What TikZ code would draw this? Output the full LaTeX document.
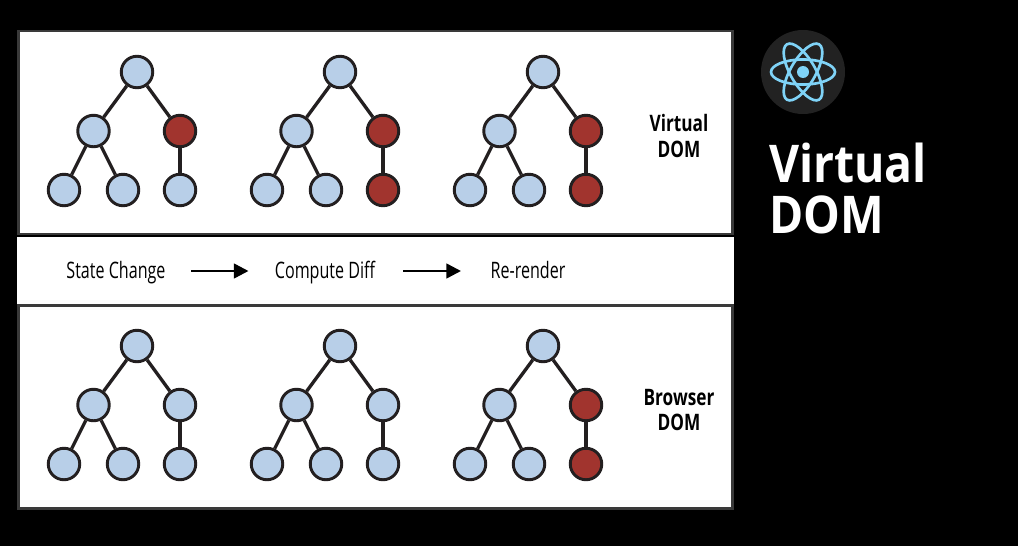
\documentclass[tikz,border=0pt]{standalone}
\usepackage{fontspec}
\setmainfont[FakeStretch=0.89,BoldFont={Open Sans Bold}]{Open Sans}
\newfontfamily\condfont[FakeStretch=0.71]{Open Sans}
\newfontfamily\condbold[FakeStretch=0.76,BoldFont={Open Sans Bold}]{Open Sans}
\usetikzlibrary{arrows.meta}
\definecolor{nodeblue}{HTML}{B8CFE8}
\definecolor{nodered}{HTML}{A1342E}
\definecolor{edgedark}{HTML}{231F20}
\definecolor{panelline}{HTML}{3A3A3A}
\definecolor{logobg}{HTML}{222222}
\definecolor{logoblue}{HTML}{7FD3F7}
\tikzset{
  x=0.75pt,y=-0.75pt,
  panel/.style={draw=panelline,line width=2.2pt,fill=white},
  treenode/.style={circle,draw=edgedark,line width=2.2pt,minimum size=31.5*0.75pt,inner sep=0pt},
  bluenode/.style={treenode,fill=nodeblue},
  rednode/.style={treenode,fill=nodered},
  treeedge/.style={draw=edgedark,line width=2.5pt},
  steplabel/.style={font=\condfont\fontsize{17}{20}\selectfont,text=black,inner sep=0pt,anchor=base},
  sidelabel/.style={font=\condbold\bfseries\fontsize{17}{19}\selectfont,text=black,align=center,inner sep=0pt},
  flow/.style={draw=black,line width=1.9pt,-{Triangle[length=11pt,width=11pt]}},
  orbit/.style={draw=logoblue,line width=2pt}
}
\newcommand{\drawtree}[5]{%
  \begin{scope}[shift={(#2,#3)}]
    \node[bluenode] (#1a) at (137,72) {};
    \node[bluenode] (#1b) at (93.5,131) {};
    \node[#4] (#1c) at (180,131) {};
    \node[bluenode] (#1d) at (64,190) {};
    \node[bluenode] (#1e) at (123,190) {};
    \node[#5] (#1f) at (180,190) {};
    \draw[treeedge] (#1a) -- (#1b);
    \draw[treeedge] (#1a) -- (#1c);
    \draw[treeedge] (#1b) -- (#1d);
    \draw[treeedge] (#1b) -- (#1e);
    \draw[treeedge] (#1c) -- (#1f);
  \end{scope}}
\begin{document}
\begin{tikzpicture}
  \fill[black] (0,0) rectangle (1018,546);
  \useasboundingbox (0,0) rectangle (1018,546);
  \node[panel,minimum width=714*0.75pt,minimum height=203*0.75pt,inner sep=0pt] (toppanel) at (375.5,132.5) {};
  \node[panel,minimum width=714*0.75pt,minimum height=203*0.75pt,inner sep=0pt] (botpanel) at (375.5,407) {};
  \fill[white] (17,236.5) rectangle (734,303.5);
  \drawtree{p}{0}{0}{rednode}{bluenode}
  \drawtree{q}{203}{0}{rednode}{rednode}
  \drawtree{r}{406}{0}{rednode}{rednode}
  \drawtree{s}{0}{274}{bluenode}{bluenode}
  \drawtree{t}{203}{274}{bluenode}{bluenode}
  \drawtree{u}{406}{274}{rednode}{rednode}
  \node[sidelabel] (vdom) at (679,136) {Virtual\\DOM};
  \node[sidelabel] (bdom) at (679,410) {Browser\\DOM};
  \node[steplabel] (state) at (116,278) {State Change};
  \node[steplabel] (diff) at (325,278) {Compute Diff};
  \node[steplabel] (render) at (528,278) {Re-render};
  \coordinate (a1) at (191,271);
  \coordinate (a2) at (248.5,271);
  \coordinate (b1) at (403,271);
  \coordinate (b2) at (461,271);
  \draw[flow] (a1) -- (a2);
  \draw[flow] (b1) -- (b2);
  \node[circle,fill=logobg,minimum size=84*0.75pt,inner sep=0pt] (logo) at (803,72) {};
  \begin{scope}[shift={(logo.center)}]
    \draw[orbit] (0,0) ellipse [x radius=32,y radius=12.5];
    \draw[orbit,rotate=60] (0,0) ellipse [x radius=32,y radius=12.5];
    \draw[orbit,rotate=120] (0,0) ellipse [x radius=32,y radius=12.5];
  \end{scope}
  \node[circle,fill=logoblue,minimum size=12*0.75pt,inner sep=0pt] (core) at (logo.center) {};
  \node[anchor=north west,inner sep=0pt,align=left,text=white,font=\bfseries\fontsize{39}{38.5}\selectfont] (title) at (769,142.5) {Virtual\\DOM};
\end{tikzpicture}
\end{document}
